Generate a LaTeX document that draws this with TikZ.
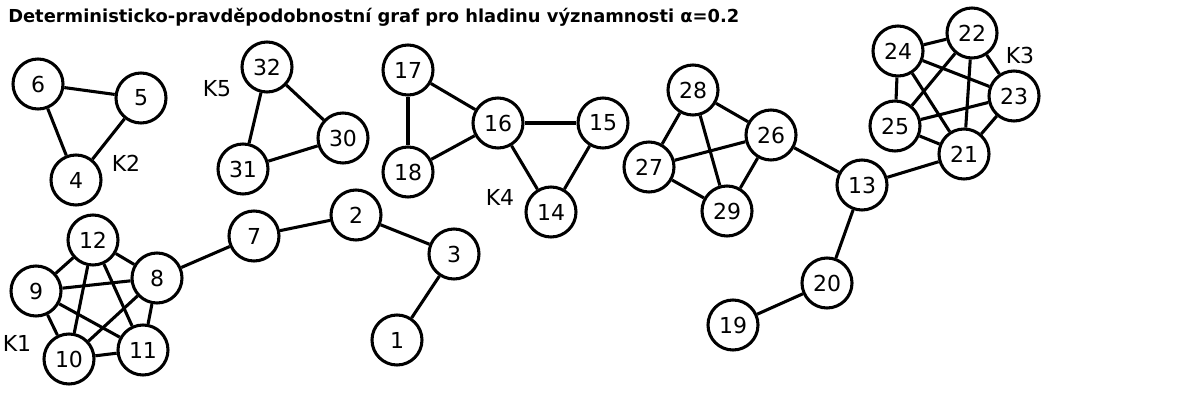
\documentclass[tikz,border=0pt]{standalone}
\usepackage{fontspec}
\setmainfont{DejaVu Sans}
\begin{document}
\begin{tikzpicture}[x=0.75pt,y=-0.75pt,
  vtx/.style={circle,draw=black,line width=2.3pt,fill=white,minimum size=37.5pt,inner sep=0pt,font=\fontsize{16.5pt}{18pt}\selectfont},
  lbl/.style={font=\fontsize{16.5pt}{18pt}\selectfont,inner sep=0pt},
  edge/.style={line width=2.3pt,black}]
\useasboundingbox (0,0) rectangle (1199,400);
\node[anchor=base west,inner sep=0pt,font=\fontsize{13.4pt}{15pt}\selectfont\bfseries] (title) at (8,22) {Deterministicko-pravděpodobnostní graf pro hladinu významnosti α=0.2};
% nodes
\node[vtx] (n6) at (38,84) {6};
\node[vtx] (n5) at (141,98) {5};
\node[vtx] (n4) at (76,180) {4};
\node[vtx] (n32) at (267,67) {32};
\node[vtx] (n30) at (343,138) {30};
\node[vtx] (n31) at (243,169) {31};
\node[vtx] (n17) at (408,70) {17};
\node[vtx] (n16) at (498,123) {16};
\node[vtx] (n15) at (603,123) {15};
\node[vtx] (n18) at (408,172) {18};
\node[vtx] (n14) at (551,212) {14};
\node[vtx] (n28) at (693,90) {28};
\node[vtx] (n26) at (771,135) {26};
\node[vtx] (n27) at (649,167) {27};
\node[vtx] (n29) at (727,211) {29};
\node[vtx] (n13) at (862,185) {13};
\node[vtx] (n20) at (827,283) {20};
\node[vtx] (n19) at (733,325) {19};
\node[vtx] (n22) at (972,33) {22};
\node[vtx] (n24) at (898,51) {24};
\node[vtx] (n23) at (1014,96) {23};
\node[vtx] (n25) at (895,126) {25};
\node[vtx] (n21) at (964,154) {21};
\node[vtx] (n12) at (93,240) {12};
\node[vtx] (n8) at (157,278) {8};
\node[vtx] (n9) at (36,291) {9};
\node[vtx] (n10) at (69,359) {10};
\node[vtx] (n11) at (143,350) {11};
\node[vtx] (n7) at (254,236) {7};
\node[vtx] (n2) at (356,215) {2};
\node[vtx] (n3) at (454,254) {3};
\node[vtx] (n1) at (397,340) {1};
% labels
\node[lbl] (k2) at (126,163) {K2};
\node[lbl] (k5) at (217,89) {K5};
\node[lbl] (k4) at (500,197) {K4};
\node[lbl] (k3) at (1020,55) {K3};
\node[lbl] (k1) at (17,343) {K1};
% edges
\foreach \a/\b in {6/5,6/4,5/4,32/31,32/30,31/30,17/16,17/18,18/16,16/15,16/14,15/14,
  28/27,28/29,28/26,27/26,27/29,29/26,26/13,13/21,13/20,20/19,
  24/22,24/23,24/21,24/25,22/23,22/25,22/21,23/25,23/21,25/21,
  12/8,12/9,12/10,12/11,8/9,8/10,8/11,9/10,9/11,10/11,8/7,7/2,2/3,3/1}
  \draw[edge] (n\a) -- (n\b);
\end{tikzpicture}
\end{document}
